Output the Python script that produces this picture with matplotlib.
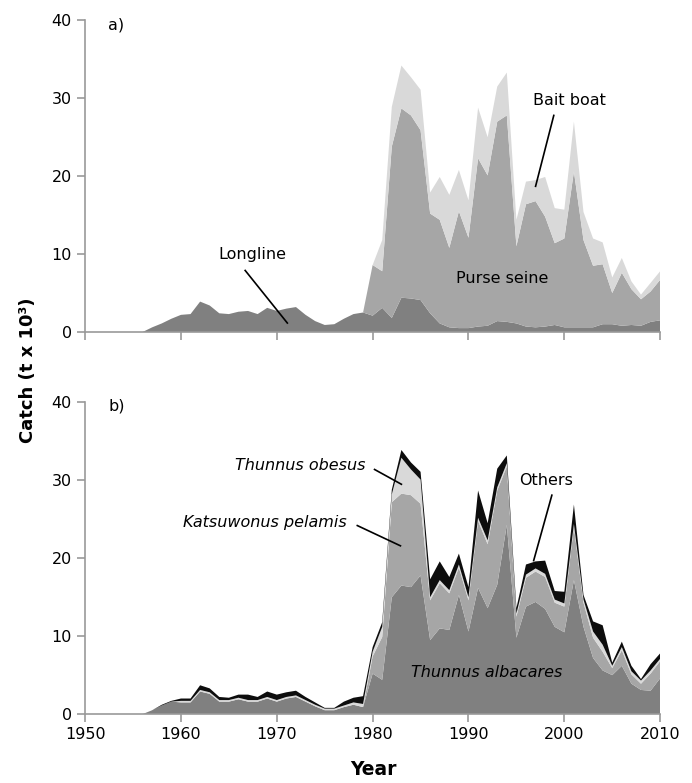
import numpy as np
import matplotlib
matplotlib.use("Agg")
import matplotlib.pyplot as plt

years = np.arange(1950, 2011)

# a) catch by gear (t x 10^3)
longline = [0, 0, 0, 0, 0, 0, 0, 0.6, 1.1, 1.7,
            2.2, 2.3, 3.9, 3.4, 2.4, 2.3, 2.6, 2.7, 2.3, 3.1,
            2.7, 3.0, 3.2, 2.2, 1.4, 0.9, 1.0, 1.7, 2.3, 2.5,
            2.1, 3.1, 1.8, 4.4, 4.3, 4.1, 2.4, 1.1, 0.6, 0.5,
            0.5, 0.7, 0.8, 1.4, 1.3, 1.1, 0.7, 0.6, 0.7, 0.9,
            0.6, 0.6, 0.6, 0.6, 1.0, 1.0, 0.8, 0.9, 0.8, 1.3,
            1.5]
purse_seine = [0] * 30 + [
            6.5, 4.7, 22.0, 24.3, 23.5, 21.8, 12.8, 13.3, 10.2, 15.0,
            11.6, 21.6, 19.3, 25.6, 26.5, 9.9, 15.7, 16.2, 14.1, 10.5,
            11.4, 20.0, 11.2, 7.9, 7.7, 4.0, 6.8, 4.6, 3.4, 3.9,
            5.2]
bait_boat = [0] * 30 + [
            0.0, 4.0, 5.1, 5.5, 4.9, 5.2, 2.7, 5.5, 6.8, 5.3,
            4.8, 6.5, 4.9, 4.5, 5.5, 3.4, 2.9, 2.7, 5.1, 4.5,
            3.7, 6.4, 3.6, 3.5, 2.8, 2.0, 1.9, 1.0, 0.6, 1.1,
            1.1]

# b) catch by species (t x 10^3)
albacares = [0, 0, 0, 0, 0, 0, 0, 0.5, 1.1, 1.6,
             1.5, 1.5, 2.9, 2.6, 1.6, 1.6, 1.9, 1.6, 1.6, 2.0,
             1.6, 2.0, 2.2, 1.6, 1.0, 0.5, 0.5, 0.9, 1.2, 0.9,
             5.2, 4.4, 15.0, 16.5, 16.3, 17.8, 9.5, 11.0, 10.8, 15.3,
             10.6, 16.2, 13.6, 16.6, 24.3, 9.8, 13.8, 14.4, 13.5, 11.2,
             10.5, 17.2, 11.2, 7.2, 5.6, 5.0, 6.2, 3.9, 3.1, 3.0,
             4.6]
pelamis = [0] * 30 + [
             2.2, 5.5, 12.2, 11.8, 11.8, 9.2, 5.1, 5.8, 4.7, 3.5,
             4.0, 8.6, 8.2, 12.1, 7.5, 2.7, 3.7, 3.9, 4.1, 3.1,
             3.3, 6.8, 3.1, 2.6, 2.4, 0.9, 2.0, 1.2, 0.8, 2.2,
             2.2]
obesus = [0, 0, 0, 0, 0, 0, 0, 0, 0, 0,
          0.2, 0.2, 0.2, 0.2, 0.2, 0.2, 0.2, 0.2, 0.2, 0.2,
          0.2, 0.2, 0.2, 0.2, 0.2, 0.2, 0.2, 0.2, 0.3, 0.4,
          0.6, 1.3, 1.0, 4.6, 3.3, 3.1, 0.4, 0.4, 0.4, 0.4,
          0.4, 0.4, 0.5, 0.4, 0.4, 0.4, 0.4, 0.4, 0.4, 0.4,
          0.4, 0.4, 0.4, 0.8, 0.9, 0.3, 0.4, 0.4, 0.4, 0.4,
          0.3]
others = [0, 0, 0, 0, 0, 0, 0, 0, 0.1, 0.1,
          0.3, 0.3, 0.6, 0.5, 0.4, 0.3, 0.4, 0.7, 0.4, 0.7,
          0.7, 0.6, 0.6, 0.4, 0.3, 0.1, 0.1, 0.5, 0.6, 1.0,
          0.6, 0.6, 0.6, 1.0, 0.9, 1.0, 2.3, 2.4, 1.7, 1.4,
          1.3, 3.5, 2.2, 2.4, 1.0, 0.7, 1.3, 0.9, 1.7, 1.1,
          1.5, 2.5, 0.6, 1.3, 2.5, 0.4, 0.7, 0.7, 0.2, 0.8,
          0.7]

dark = '#808080'
mid = '#a6a6a6'
light = '#d9d9d9'
black = '#0d0d0d'
axis_col = '#999999'

plt.rcParams['font.family'] = ['DejaVu Sans']

fig = plt.figure(figsize=(6.92, 7.83), dpi=100)
ax1 = fig.add_axes([0.123, 0.576, 0.831, 0.398])
ax2 = fig.add_axes([0.123, 0.088, 0.831, 0.398])


def style_axis(ax, show_xlabels):
    ax.set_xlim(1950, 2010)
    ax.set_ylim(0, 40)
    ax.set_xticks(range(1950, 2011, 10))
    ax.set_yticks(range(0, 41, 10))
    for s in ['top', 'right']:
        ax.spines[s].set_visible(False)
    for s in ['left', 'bottom']:
        ax.spines[s].set_color(axis_col)
        ax.spines[s].set_linewidth(1.2)
    ax.tick_params(axis='both', colors=axis_col, labelcolor='black',
                   length=6, width=1.2, labelsize=11.5, direction='out')
    if not show_xlabels:
        ax.set_xticklabels([])


ax1.stackplot(years, longline, purse_seine, bait_boat,
              colors=[dark, mid, light], linewidth=0)
style_axis(ax1, False)
ax1.text(1952.4, 39.4, 'a)', fontsize=11.5, ha='left', va='center')
ax1.text(1967.5, 9.9, 'Longline', fontsize=11.5, ha='center', va='center')
ax1.plot([1966.7, 1971.1], [7.9, 1.15], color='black', lw=1.2)
ax1.text(2000.5, 29.7, 'Bait boat', fontsize=11.5, ha='center', va='center')
ax1.plot([1998.9, 1997.0], [27.8, 18.7], color='black', lw=1.2)
ax1.text(1993.5, 6.9, 'Purse seine', fontsize=11.5, ha='center', va='center')

ax2.stackplot(years, albacares, pelamis, obesus, others,
              colors=[dark, mid, light, black], linewidth=0)
style_axis(ax2, True)
ax2.text(1952.4, 39.6, 'b)', fontsize=11.5, ha='left', va='center')
ax2.text(1972.4, 31.9, 'Thunnus obesus', fontsize=11.5, style='italic',
         ha='center', va='center')
ax2.plot([1980.2, 1983.0], [31.4, 29.5], color='black', lw=1.2)
ax2.text(1968.75, 24.6, 'Katsuwonus pelamis', fontsize=11.5, style='italic',
         ha='center', va='center')
ax2.plot([1978.4, 1982.9], [24.2, 21.6], color='black', lw=1.2)
ax2.text(1998.1, 30.0, 'Others', fontsize=11.5, ha='center', va='center')
ax2.plot([1998.7, 1996.8], [28.1, 19.7], color='black', lw=1.2)
ax2.text(1991.9, 5.3, 'Thunnus albacares', fontsize=11.5, style='italic',
         ha='center', va='center')

fig.text(0.04, 0.527, 'Catch (t x 10³)', rotation=90, fontsize=13,
         fontweight='bold', ha='center', va='center')
fig.text(0.54, 0.005, 'Year', fontsize=13.5, fontweight='bold',
         ha='center', va='bottom')

fig.savefig('out.png', dpi=100)
